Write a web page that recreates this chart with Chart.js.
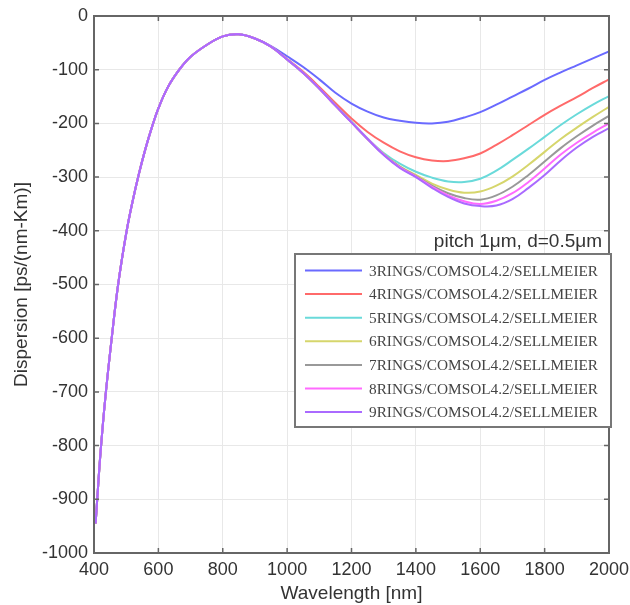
<!DOCTYPE html>
<html>
<head>
<meta charset="utf-8">
<script src="https://cdn.jsdelivr.net/npm/chart.js@4.4.1/dist/chart.umd.min.js"></script>
<style>
  html, body { margin: 0; padding: 0; background: #fff; }
  #wrap { width: 630px; height: 605px; }
</style>
</head>
<body>
<div id="wrap"><canvas id="chart" width="630" height="605"></canvas></div>
<script>
// wavelength [nm]
const wavelengths = [405, 410, 420, 435, 455, 475, 500, 520, 540, 560, 580, 600, 630, 665, 700, 750, 800, 850, 900, 950,
  1000, 1050, 1100, 1150, 1200, 1250, 1300, 1350, 1400, 1450, 1500, 1550, 1600, 1650, 1700, 1750, 1800, 1850, 1900, 1950, 2000];

// dispersion [ps/(nm-Km)]
const rings3 = [-945, -900, -815, -712, -600, -500, -405, -345, -293, -247, -207, -172, -132, -100, -76, -54, -38, -34, -42, -56,
  -75, -95, -118, -143, -163, -178, -189, -195, -199, -200, -197, -189, -179, -165, -150, -135, -119, -105, -92, -79, -66];
const rings4 = [-945, -900, -815, -712, -600, -500, -405, -345, -293, -247, -207, -172, -132, -100, -76, -54, -38, -34, -42, -57,
  -80, -104, -132, -162, -191, -216, -236, -252, -263, -269, -270, -265, -256, -240, -222, -203, -184, -167, -151, -134, -118];
const rings5 = [-945, -900, -815, -712, -600, -500, -405, -345, -293, -247, -207, -172, -132, -100, -76, -54, -38, -34, -42, -57,
  -81, -106, -135, -166, -197, -228, -255, -275, -290, -301, -308, -309, -303, -288, -268, -247, -225, -203, -183, -165, -149];
const rings6 = [-945, -900, -815, -712, -600, -500, -405, -345, -293, -247, -207, -172, -132, -100, -76, -54, -38, -34, -42, -57,
  -81, -106, -135, -167, -198, -229, -257, -280, -296, -312, -323, -329, -327, -316, -299, -277, -253, -229, -208, -188, -169];
const rings7 = [-945, -900, -815, -712, -600, -500, -405, -345, -293, -247, -207, -172, -132, -100, -76, -54, -38, -34, -42, -57,
  -81, -106, -135, -167, -198, -229, -258, -281, -298, -316, -330, -339, -342, -334, -318, -296, -271, -246, -224, -204, -186];
const rings8 = [-945, -900, -815, -712, -600, -500, -405, -345, -293, -247, -207, -172, -132, -100, -76, -54, -38, -34, -42, -57,
  -81, -106, -135, -167, -198, -229, -258, -282, -299, -318, -334, -345, -350, -344, -330, -309, -284, -258, -236, -217, -200];
const rings9 = [-945, -900, -815, -712, -600, -500, -405, -345, -293, -247, -207, -172, -132, -100, -76, -54, -38, -34, -42, -57,
  -81, -106, -135, -167, -198, -229, -259, -283, -300, -320, -337, -349, -354, -353, -341, -320, -296, -269, -245, -225, -209];

const seriesLabels = [
  "3RINGS/COMSOL4.2/SELLMEIER",
  "4RINGS/COMSOL4.2/SELLMEIER",
  "5RINGS/COMSOL4.2/SELLMEIER",
  "6RINGS/COMSOL4.2/SELLMEIER",
  "7RINGS/COMSOL4.2/SELLMEIER",
  "8RINGS/COMSOL4.2/SELLMEIER",
  "9RINGS/COMSOL4.2/SELLMEIER"
];
const seriesValues = [rings3, rings4, rings5, rings6, rings7, rings8, rings9];
const seriesColors = ["#6a6aff", "#ff6a6a", "#6adada", "#d6d66c", "#999999", "#ff6aff", "#aa6aff"];

const xTicks = [400, 600, 800, 1000, 1200, 1400, 1600, 1800, 2000];
const yTicks = [0, -100, -200, -300, -400, -500, -600, -700, -800, -900, -1000];
const annotation = "pitch 1\u03bcm, d=0.5\u03bcm";

const sansFont = "'Liberation Sans', Arial, sans-serif";
const serifFont = "'Liberation Serif', 'Times New Roman', serif";

const datasets = seriesLabels.map((label, i) => ({
  label: label,
  data: wavelengths.map((x, j) => ({ x: x, y: seriesValues[i][j] })),
  borderColor: seriesColors[i],
  borderWidth: 2,
  pointRadius: 0,
  fill: false,
  tension: 0.4,
  order: seriesLabels.length - i
}));

// MATLAB style box, inward ticks, legend box and text
const framePlugin = {
  id: "frame",
  afterDatasetsDraw(chart) {
    const ctx = chart.ctx;
    const a = chart.chartArea;
    const xs = chart.scales.x, ys = chart.scales.y;
    ctx.save();
    ctx.strokeStyle = "#666";
    ctx.lineWidth = 1.5;
    ctx.beginPath();
    xTicks.forEach(v => {
      const p = xs.getPixelForValue(v);
      ctx.moveTo(p, a.bottom); ctx.lineTo(p, a.bottom - 5);
      ctx.moveTo(p, a.top); ctx.lineTo(p, a.top + 5);
    });
    yTicks.forEach(v => {
      const p = ys.getPixelForValue(v);
      ctx.moveTo(a.left, p); ctx.lineTo(a.left + 5, p);
      ctx.moveTo(a.right, p); ctx.lineTo(a.right - 5, p);
    });
    ctx.stroke();
    ctx.lineWidth = 2;
    ctx.strokeRect(a.left, a.top, a.right - a.left, a.bottom - a.top);

    // annotation text
    ctx.fillStyle = "#333";
    ctx.font = "19px " + sansFont;
    ctx.textAlign = "right";
    ctx.textBaseline = "middle";
    ctx.fillText(annotation, a.right - 7, 242);

    // legend
    const lx = 295, ly = 254, lw = a.right + 2 - lx, lh = 173;
    ctx.fillStyle = "#fff";
    ctx.fillRect(lx, ly, lw, lh);
    ctx.strokeStyle = "#777";
    ctx.lineWidth = 2;
    ctx.strokeRect(lx, ly, lw, lh);
    ctx.font = "15.3px " + serifFont;
    ctx.textAlign = "left";
    seriesLabels.forEach((label, i) => {
      const y = 270.5 + i * 23.6;
      ctx.strokeStyle = seriesColors[i];
      ctx.lineWidth = 2;
      ctx.beginPath();
      ctx.moveTo(305, y); ctx.lineTo(362, y);
      ctx.stroke();
      ctx.fillStyle = "#444";
      ctx.fillText(label, 369, y + 1);
    });
    ctx.restore();
  }
};

new Chart(document.getElementById("chart"), {
  type: "line",
  data: { datasets: datasets },
  options: {
    responsive: false,
    animation: false,
    layout: { padding: { top: 16, right: 21, left: 0, bottom: 0 } },
    plugins: { legend: { display: false }, tooltip: { enabled: false } },
    scales: {
      x: {
        type: "linear",
        min: 400,
        max: 2000,
        afterBuildTicks: scale => { scale.ticks = xTicks.map(v => ({ value: v })); },
        afterFit: scale => { scale.height = 52; scale.paddingRight = 0; scale.paddingLeft = 0; },
        grid: { color: "#e8e8e8", lineWidth: 1, drawTicks: false },
        border: { display: false },
        ticks: { color: "#333", font: { family: sansFont, size: 18 }, padding: 6, maxRotation: 0, callback: v => String(v) },
        title: { display: true, text: "Wavelength [nm]", color: "#333", font: { family: sansFont, size: 19 }, padding: { top: 0, bottom: 0 } }
      },
      y: {
        type: "linear",
        min: -1000,
        max: 0,
        afterBuildTicks: scale => { scale.ticks = yTicks.map(v => ({ value: v })); },
        afterFit: scale => { scale.width = 94; scale.paddingTop = 0; scale.paddingBottom = 0; },
        grid: { color: "#e8e8e8", lineWidth: 1, drawTicks: false },
        border: { display: false },
        ticks: { color: "#333", font: { family: sansFont, size: 18 }, padding: 6, callback: v => String(v) },
        title: { display: true, text: "Dispersion [ps/(nm-Km)]", color: "#333", font: { family: sansFont, size: 19 }, padding: { top: 10, bottom: 0 } }
      }
    }
  },
  plugins: [framePlugin]
});
</script>
</body>
</html>
